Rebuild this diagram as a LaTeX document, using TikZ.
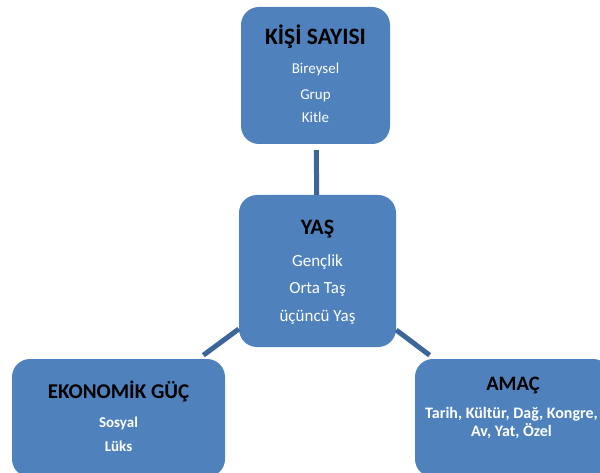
\documentclass[tikz,border=0pt]{standalone}
\usepackage{fontspec}
\setmainfont{Carlito}
\usetikzlibrary{positioning}

\definecolor{kutumavi}{HTML}{4F81BD}
\definecolor{cizgimavi}{HTML}{3C6699}

\begin{document}
\begin{tikzpicture}[x=1pt, y=-1pt,
    kutu/.style={fill=kutumavi, draw=none, rounded corners=18pt, inner sep=0pt},
    baslik/.style={anchor=base, font=\fontsize{20.5}{24}\selectfont\bfseries, text=black},
    madde/.style={anchor=base, text=white, font=\fontsize{15}{18}\selectfont},
    baglanti/.style={draw=cizgimavi, line width=5pt, shorten >=6pt}]
    \useasboundingbox (0,0) rectangle (600,473);

    % kutular
    \node[kutu, minimum width=149pt, minimum height=137pt] (kisi) at (315.5,75.5) {};
    \node[kutu, minimum width=157pt, minimum height=152pt] (yas) at (317.5,271) {};
    \node[kutu, minimum width=213pt, minimum height=118pt] (ekonomik) at (118.5,418) {};
    \node[kutu, minimum width=196pt, minimum height=118pt] (amac) at (513,418) {};

    % baglantilar
    \draw[baglanti] (yas) -- (kisi);
    \draw[baglanti] (yas) -- (ekonomik);
    \draw[baglanti] (yas) -- (amac);

    % KISI SAYISI
    \node[baslik, font=\fontsize{23.5}{28}\selectfont\bfseries] (kisibaslik) at (315.5,45) {KİŞİ SAYISI};
    \node[madde] (bireysel) at (315.5,74) {Bireysel};
    \node[madde] (grup) at (315.5,99.5) {Grup};
    \node[madde] (kitle) at (315.5,123) {Kitle};

    % YAS
    \node[baslik, font=\fontsize{22}{26}\selectfont\bfseries] (yasbaslik) at (317.5,235) {YAŞ};
    \node[madde, font=\fontsize{17}{20}\selectfont] (genclik) at (317.5,266) {Gençlik};
    \node[madde, font=\fontsize{17}{20}\selectfont] (orta) at (317.5,294) {Orta Taş};
    \node[madde, font=\fontsize{17}{20}\selectfont] (ucuncu) at (317.5,321) {üçüncü Yaş};

    % EKONOMIK GUC
    \node[baslik, font=\fontsize{21}{25}\selectfont\bfseries] (ekobaslik) at (118.5,398) {EKONOMİK GÜÇ};
    \node[madde, font=\fontsize{15}{18}\selectfont\bfseries] (sosyal) at (118.5,427) {Sosyal};
    \node[madde, font=\fontsize{15}{18}\selectfont\bfseries] (luks) at (118.5,451) {Lüks};

    % AMAC
    \node[baslik] (amacbaslik) at (513,390) {AMAÇ};
    \node[madde, font=\fontsize{16}{19}\selectfont\bfseries] (amac1) at (511.5,418) {Tarih, Kültür, Dağ, Kongre,};
    \node[madde, font=\fontsize{16}{19}\selectfont\bfseries] (amac2) at (511.5,436) {Av, Yat, Özel};
\end{tikzpicture}
\end{document}
